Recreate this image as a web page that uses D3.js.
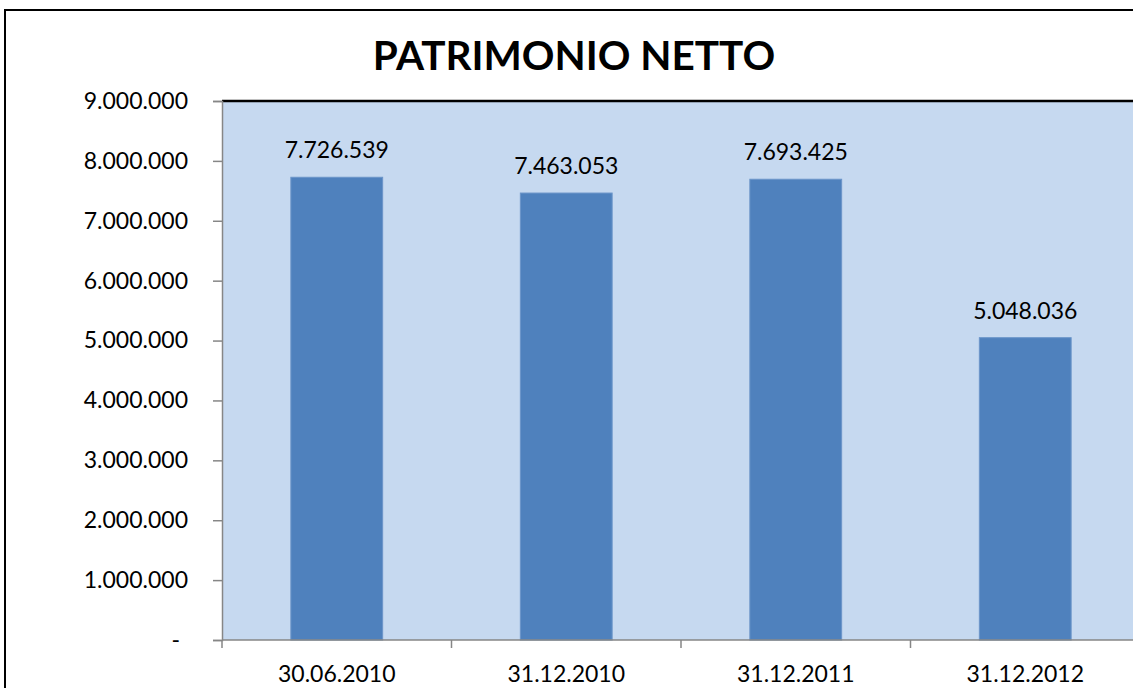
<!DOCTYPE html>
<html>
<head>
<meta charset="utf-8">
<script src="https://cdn.jsdelivr.net/npm/d3@7"></script>
<style>
  html, body { margin: 0; padding: 0; background: #fff; overflow: hidden; }
  svg { display: block; overflow: hidden; font-family: Lato, "Open Sans", sans-serif; }
</style>
</head>
<body>
<svg id="chart" width="1133" height="688"></svg>
<script>
const title = "PATRIMONIO NETTO";
const categories = ["30.06.2010", "31.12.2010", "31.12.2011", "31.12.2012"];
const values = [7726539, 7463053, 7693425, 5048036];
const yTicks = [0, 1000000, 2000000, 3000000, 4000000, 5000000, 6000000, 7000000, 8000000, 9000000];

const svg = d3.select("#chart");
const W = 1133, H = 688;
const plot = { left: 222, right: 1140, top: 101, bottom: 640 };

const loc = d3.formatLocale({ decimal: ",", thousands: ".", grouping: [3], currency: ["€", ""] });
const fmt = loc.format(",d");

const x = d3.scaleBand().domain(categories).range([plot.left, plot.right])
  .paddingInner(0.6).paddingOuter(0.3);
const y = d3.scaleLinear().domain([0, 9000000]).range([plot.bottom, plot.top]);

// outer chart border: left and top edges (the rest lies outside the picture)
svg.append("line").attr("x1", 5).attr("x2", 5).attr("y1", 9).attr("y2", H)
  .attr("stroke", "#000").attr("stroke-width", 2);
svg.append("line").attr("x1", 4).attr("x2", W).attr("y1", 10).attr("y2", 10)
  .attr("stroke", "#000").attr("stroke-width", 2);

// plot background
svg.append("rect").attr("x", plot.left).attr("y", plot.top)
  .attr("width", W - plot.left).attr("height", plot.bottom - plot.top)
  .attr("fill", "#C6D9F0");
// plot top border
svg.append("line").attr("x1", plot.left).attr("x2", W)
  .attr("y1", plot.top).attr("y2", plot.top).attr("stroke", "#000").attr("stroke-width", 2.5);

// title
svg.append("text").attr("x", 574).attr("y", 70).attr("text-anchor", "middle")
  .attr("font-size", 40.5).attr("font-weight", 700).attr("fill", "#000").text(title);

// bars
svg.append("g").selectAll("rect").data(values).join("rect")
  .attr("x", (d, i) => x(categories[i]))
  .attr("y", d => y(d))
  .attr("width", x.bandwidth())
  .attr("height", d => y(0) - y(d))
  .attr("fill", "#4F81BD")
  .attr("stroke", "#6B95C9").attr("stroke-width", 1);

// data labels
svg.append("g").selectAll("text").data(values).join("text")
  .attr("x", (d, i) => x(categories[i]) + x.bandwidth() / 2)
  .attr("y", d => y(d) - 19)
  .attr("text-anchor", "middle").attr("font-size", 23).attr("fill", "#000")
  .text(d => fmt(d));

// y axis
const yAxis = d3.axisLeft(y).tickValues(yTicks).tickSize(9).tickPadding(25)
  .tickFormat(d => d === 0 ? "-" : fmt(d));
const gy = svg.append("g").attr("transform", `translate(${plot.left},0)`).call(yAxis);
gy.select(".domain").attr("stroke", "#868686").attr("stroke-width", 1.5);
gy.selectAll(".tick line").attr("stroke", "#868686").attr("stroke-width", 1.5);
gy.selectAll(".tick text").attr("font-size", 23).attr("font-family", "Lato, sans-serif").attr("fill", "#000")
  .attr("dx", d => d === 0 ? -8 : 0);

// x axis baseline
svg.append("line").attr("x1", plot.left).attr("x2", W)
  .attr("y1", plot.bottom).attr("y2", plot.bottom).attr("stroke", "#868686").attr("stroke-width", 1.5);
// x ticks at category boundaries
const bounds = categories.map(c => x(c) - x.step() * x.paddingOuter());
svg.append("g").selectAll("line").data(bounds).join("line")
  .attr("x1", d => d).attr("x2", d => d)
  .attr("y1", plot.bottom).attr("y2", plot.bottom + 8)
  .attr("stroke", "#868686").attr("stroke-width", 1.5);
// x labels
svg.append("g").selectAll("text").data(categories).join("text")
  .attr("x", d => x(d) + x.bandwidth() / 2)
  .attr("y", 682).attr("text-anchor", "middle").attr("font-size", 23).attr("fill", "#000")
  .text(d => d);
</script>
</body>
</html>
